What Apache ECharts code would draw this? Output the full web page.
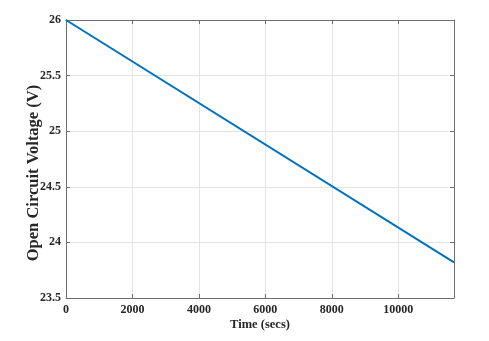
<!DOCTYPE html>
<html>
<head>
<meta charset="utf-8">
<script src="https://cdn.jsdelivr.net/npm/echarts@6/dist/echarts.min.js"></script>
<style>
  html, body { margin: 0; padding: 0; background: #fff; }
  #chart { width: 489px; height: 341px; }
</style>
</head>
<body>
<div id="chart"></div>
<script>
// Open circuit voltage vs time (straight discharge line)
const timeSecs = [0, 11680];
const voltage = [26, 23.82];
const xTicks = [0, 2000, 4000, 6000, 8000, 10000];
const yTicks = [23.5, 24, 24.5, 25, 25.5, 26];

const font = "Liberation Serif";
const axisGray = "#6e6e6e";

var chart = echarts.init(document.getElementById("chart"));

const points = timeSecs.map((t, i) => [t, voltage[i]]);

function hiddenAxis(type, pos) {
  return {
    type: "value",
    position: pos,
    min: type === "x" ? 0 : 23.5,
    max: type === "x" ? 11680 : 26,
    interval: type === "x" ? 2000 : 0.5,
    axisLine: { show: true, onZero: false, lineStyle: { color: axisGray, width: 1 } },
    axisTick: { show: true, inside: true, length: 4, lineStyle: { color: axisGray } },
    axisLabel: { show: false },
    splitLine: { show: false },
  };
}

chart.setOption({
  animation: false,
  grid: { left: 66, right: 35, top: 20, bottom: 43 },
  xAxis: [
    {
      type: "value",
      min: 0,
      max: 11680,
      interval: 2000,
      name: "Time (secs)",
      nameLocation: "middle",
      nameGap: 20,
      nameMoveOverlap: false,
      nameTextStyle: { fontFamily: font, fontWeight: "bold", fontSize: 12.5, color: "#262626" },
      axisLine: { show: true, onZero: false, lineStyle: { color: axisGray, width: 1 } },
      axisTick: { show: true, inside: true, length: 4, lineStyle: { color: axisGray } },
      axisLabel: {
        fontFamily: font,
        fontWeight: "bold",
        fontSize: 12,
        color: "#262626",
        margin: 6,
        formatter: (v) => (xTicks.includes(v) ? String(v) : ""),
      },
      splitLine: { show: true, lineStyle: { color: "#e4e4e4", width: 1 } },
    },
    hiddenAxis("x", "top"),
  ],
  yAxis: [
    {
      type: "value",
      min: 23.5,
      max: 26,
      interval: 0.5,
      name: "Open Circuit Voltage (V)",
      nameLocation: "middle",
      nameGap: 24,
      nameMoveOverlap: false,
      nameTextStyle: {
        fontFamily: font,
        fontWeight: "bold",
        fontSize: 16.5,
        color: "#262626",
        padding: [0, 28, 0, 0], // nudges the title down like the original
      },
      axisLine: { show: true, onZero: false, lineStyle: { color: axisGray, width: 1 } },
      axisTick: { show: true, inside: true, length: 4, lineStyle: { color: axisGray } },
      axisLabel: {
        fontFamily: font,
        fontWeight: "bold",
        fontSize: 12,
        color: "#262626",
        margin: 5,
        formatter: (v) => (yTicks.includes(v) ? String(v) : ""),
      },
      splitLine: { show: true, lineStyle: { color: "#e4e4e4", width: 1 } },
    },
    hiddenAxis("y", "right"),
  ],
  series: [
    {
      type: "line",
      data: points,
      showSymbol: false,
      lineStyle: { color: "#0072BD", width: 2 },
    },
  ],
});
</script>
</body>
</html>
